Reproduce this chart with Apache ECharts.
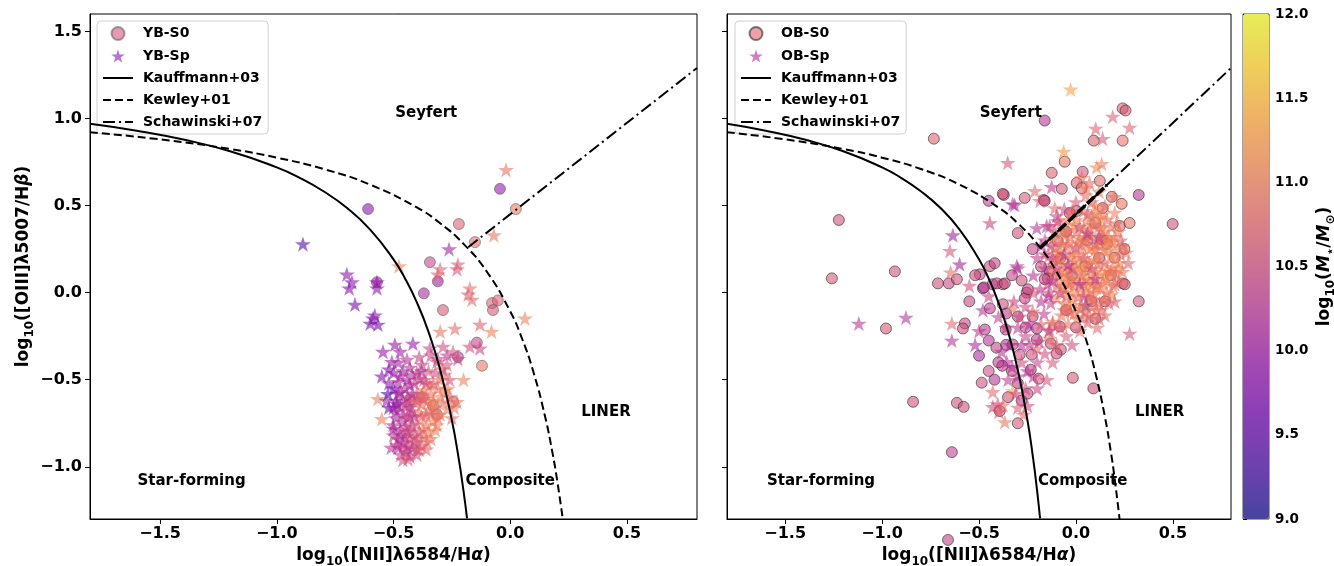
<!DOCTYPE html>
<html>
<head>
<meta charset="utf-8">
<title>BPT diagram</title>
<script src="https://cdn.jsdelivr.net/npm/echarts@6/dist/echarts.min.js"></script>
<style>
html, body { margin: 0; background: #fff; }
#chart { width: 1334px; height: 566px; }
</style>
</head>
<body>
<div id="chart"></div>
<script>
// [log NII/Ha, log OIII/Hb, log M*]
const ybS0 = [
  [-0.609, 0.48, 9.8], [-0.044, 0.596, 9.9], [0.024, 0.48, 10.9], [-0.22, 0.394, 10.7],
  [-0.151, 0.29, 10.8], [-0.344, 0.175, 10.4], [-0.31, 0.065, 10.0], [-0.571, 0.06, 10.0],
  [-0.37, -0.004, 10.1], [-0.288, -0.10, 10.6], [-0.078, -0.06, 10.7], [-0.053, -0.045, 10.7],
  [-0.074, -0.10, 10.6], [-0.143, -0.287, 10.4], [-0.121, -0.42, 10.9], [-0.224, -0.37, 10.3],
  [-0.378, -0.60, 10.5], [-0.33, -0.65, 10.6], [-0.43, -0.615, 10.5], [-0.314, -0.70, 10.6],
  [-0.245, -0.627, 10.8]
];
const ybSp = [
  [-0.888, 0.279, 9.3], [-0.70, 0.105, 9.8], [-0.678, 0.06, 9.8], [-0.69, 0.025, 9.8],
  [-0.665, -0.068, 9.6], [-0.571, 0.025, 9.8], [-0.571, 0.06, 9.9], [-0.588, -0.148, 9.8],
  [-0.60, -0.177, 9.7], [-0.567, -0.183, 9.6], [-0.58, -0.13, 9.8], [-0.018, 0.705, 10.9],
  [-0.07, 0.33, 10.9], [-0.262, 0.25, 10.0], [-0.477, 0.152, 11.0], [-0.224, 0.163, 10.7],
  [-0.228, 0.135, 10.6], [-0.30, 0.135, 10.7], [-0.31, 0.105, 10.7], [-0.173, 0.025, 10.8],
  [-0.18, -0.01, 10.7], [-0.164, -0.04, 10.8], [0.063, -0.148, 11.0], [-0.30, -0.223, 10.9],
  [-0.237, -0.206, 10.8], [-0.13, -0.183, 10.7], [-0.08, -0.223, 11.0], [-0.173, -0.31, 10.5],
  [-0.13, -0.32, 10.4], [-0.2, -0.5, 11.0], [-0.545, -0.339, 9.9], [-0.494, -0.298, 9.9],
  [-0.417, -0.292, 9.9], [-0.472, -0.339, 10.0], [-0.507, -0.397, 10.0], [-0.442, -0.385, 10.2],
  [-0.344, -0.32, 10.4], [-0.288, -0.31, 10.5], [-0.245, -0.34, 10.6], [-0.224, -0.38, 10.4],
  [-0.378, -0.413, 10.3], [-0.314, -0.397, 10.5], [-0.271, -0.413, 10.6], [-0.48, -0.512, 10.1],
  [-0.43, -0.529, 10.2], [-0.387, -0.494, 10.3], [-0.472, -0.57, 10.0], [-0.524, -0.581, 9.3],
  [-0.485, -0.639, 9.4], [-0.567, -0.61, 11.0], [-0.55, -0.725, 11.0], [-0.344, -0.529, 11.0],
  [-0.267, -0.552, 11.1], [-0.228, -0.627, 10.9], [-0.30, -0.598, 11.1], [-0.27, -0.668, 11.0],
  [-0.502, -0.76, 10.2], [-0.472, -0.818, 10.3], [-0.43, -0.84, 10.6], [-0.485, -0.875, 10.4],
  [-0.442, -0.916, 10.6], [-0.40, -0.898, 10.9], [-0.357, -0.858, 10.9], [-0.314, -0.76, 11.0],
  [-0.374, -0.783, 11.0], [-0.30, -0.70, 11.0], [-0.438, -0.956, 10.7], [-0.46, -0.45, 10.0],
  [-0.42, -0.47, 10.2], [-0.40, -0.58, 10.8], [-0.38, -0.64, 10.9], [-0.36, -0.70, 10.8],
  [-0.42, -0.68, 10.5], [-0.46, -0.70, 10.2], [-0.49, -0.72, 10.1], [-0.45, -0.77, 10.4],
  [-0.40, -0.75, 10.8], [-0.35, -0.80, 11.0], [-0.33, -0.62, 11.1], [-0.31, -0.55, 10.9],
  [-0.35, -0.45, 10.6], [-0.39, -0.37, 10.4], [-0.50, -0.46, 9.9], [-0.52, -0.52, 9.9],
  [-0.49, -0.62, 10.0], [-0.47, -0.66, 10.3], [-0.44, -0.60, 10.4], [-0.41, -0.82, 10.6],
  [-0.38, -0.88, 10.7], [-0.46, -0.86, 10.2], [-0.50, -0.82, 10.3], [-0.44, -0.72, 10.5],
  [-0.37, -0.56, 11.0], [-0.28, -0.47, 10.8], [-0.26, -0.50, 10.6], [-0.34, -0.36, 10.4],
  [-0.52, -0.44, 9.8], [-0.55, -0.48, 9.7], [-0.48, -0.40, 10.0], [-0.52, -0.66, 9.5],
  [-0.50, -0.55, 9.6], [-0.43, -0.43, 10.2], [-0.36, -0.52, 10.6], [-0.32, -0.46, 10.5],
  [-0.41, -0.63, 10.9], [-0.39, -0.69, 11.0], [-0.33, -0.74, 11.1], [-0.42, -0.89, 10.3],
  [-0.47, -0.93, 10.4], [-0.51, -0.89, 10.2], [-0.40, -0.93, 10.5], [-0.47, -0.48, 10.1],
  [-0.45, -0.55, 10.2], [-0.43, -0.66, 10.3], [-0.41, -0.71, 10.4], [-0.47, -0.79, 10.3],
  [-0.43, -0.79, 10.5], [-0.39, -0.80, 10.6], [-0.45, -0.83, 10.3], [-0.48, -0.89, 10.2],
  [-0.44, -0.88, 10.4], [-0.41, -0.86, 10.5], [-0.37, -0.83, 10.8], [-0.35, -0.67, 10.9],
  [-0.37, -0.61, 10.7], [-0.34, -0.58, 10.9], [-0.32, -0.66, 11.0], [-0.29, -0.63, 10.8],
  [-0.31, -0.38, 10.4], [-0.27, -0.36, 10.3], [-0.29, -0.44, 10.6], [-0.41, -0.52, 10.3],
  [-0.38, -0.45, 10.2], [-0.53, -0.62, 10.0], [-0.49, -0.68, 10.1], [-0.50, -0.78, 10.0],
  [-0.46, -0.96, 10.5], [-0.43, -0.94, 10.4], [-0.48, -0.58, 10.1], [-0.46, -0.62, 10.2],
  [-0.44, -0.65, 10.3], [-0.42, -0.58, 10.2], [-0.40, -0.62, 10.6], [-0.38, -0.71, 10.7],
  [-0.36, -0.76, 10.9], [-0.34, -0.70, 10.8], [-0.44, -0.50, 10.1], [-0.40, -0.46, 10.3],
  [-0.37, -0.50, 10.5], [-0.33, -0.52, 10.7], [-0.30, -0.50, 10.9], [-0.48, -0.84, 10.2],
  [-0.44, -0.80, 10.4], [-0.40, -0.84, 10.6], [-0.42, -0.76, 10.4], [-0.46, -0.74, 10.2],
  [-0.50, -0.66, 10.0], [-0.38, -0.59, 10.8], [-0.35, -0.62, 10.9], [-0.43, -0.71, 10.3],
  [-0.45, -0.90, 10.3], [-0.39, -0.90, 10.6], [-0.36, -0.90, 10.8], [-0.34, -0.84, 10.9],
  [-0.32, -0.79, 11.0], [-0.31, -0.72, 10.9], [-0.28, -0.56, 10.9], [-0.26, -0.60, 10.8],
  [-0.24, -0.66, 10.9], [-0.25, -0.72, 10.8]
];
const obS0 = [
  [-0.733, 0.884, 10.7], [-1.223, 0.417, 10.5], [-1.259, 0.082, 10.6], [-0.934, 0.122, 10.5],
  [-0.712, 0.053, 10.5], [-0.656, 0.053, 10.4], [-0.614, 0.077, 10.5], [-0.496, 0.105, 10.4],
  [-0.98, -0.206, 10.6], [-0.573, -0.177, 10.4], [-0.583, -0.206, 10.5], [-0.84, -0.627, 10.5],
  [-0.614, -0.633, 10.5], [-0.579, -0.656, 10.5], [-0.64, -0.916, 10.3], [-0.5, -0.362, 10.1],
  [-0.486, -0.517, 10.5], [-0.47, -0.212, 10.3], [-0.45, -0.275, 10.2], [-0.41, -0.316, 10.4],
  [-0.444, -0.09, 10.3], [-0.48, 0.025, 10.2], [-0.43, 0.048, 10.3], [-0.377, 0.048, 10.4],
  [-0.475, 0.03, 10.3], [-0.444, 0.152, 10.5], [-0.419, 0.169, 10.4], [-0.408, 0.053, 10.4],
  [-0.367, 0.053, 10.5], [-0.377, -0.067, 10.5], [-0.362, -0.212, 10.4], [-0.393, -0.68, 10.6],
  [-0.254, 0.0, 10.5], [-0.264, -0.033, 10.4], [-0.223, -0.137, 10.5], [-0.202, -0.206, 10.3],
  [-0.202, -0.27, 10.4], [-0.228, -0.356, 10.5], [-0.233, -0.443, 10.4], [-0.192, -0.494, 10.6],
  [-0.29, -0.356, 10.5], [-0.3, -0.137, 10.3], [-0.326, -0.298, 10.4], [-0.135, 0.123, 10.6],
  [-0.145, 0.082, 10.4], [-0.083, -0.195, 10.6], [-0.078, -0.327, 10.6], [-0.13, -0.293, 10.5],
  [-0.016, -0.489, 10.6], [0.09, -0.55, 10.5], [-0.161, 0.988, 10.2], [0.241, 1.058, 10.7],
  [0.256, 1.046, 10.6], [0.092, 0.873, 10.7], [0.241, 0.873, 10.9], [-0.058, 0.752, 10.9],
  [-0.125, 0.688, 10.7], [-0.073, 0.596, 10.6], [0.035, 0.694, 10.6], [0.004, 0.63, 10.7],
  [0.03, 0.6, 10.8], [-0.45, 0.527, 10.3], [-0.372, 0.561, 10.6], [-0.264, 0.544, 10.6],
  [-0.166, 0.532, 10.6], [-0.3, 0.342, 10.5], [0.185, 0.55, 10.8], [0.324, 0.561, 10.2],
  [0.499, 0.394, 10.5], [0.324, -0.05, 10.6], [0.241, 0.053, 10.7], [0.123, 0.642, 10.8],
  [-0.161, 0.527, 10.4], [-0.377, 0.567, 10.5], [0.236, 0.51, 10.9], [0.226, 0.383, 10.8],
  [0.277, 0.4, 10.9], [0.138, 0.486, 10.7], [0.004, 0.469, 10.6], [-0.032, 0.457, 10.5],
  [-0.223, 0.25, 10.4], [-0.161, 0.077, 10.5], [-0.248, 0.019, 10.4], [0.252, 0.048, 10.7],
  [0.133, 0.307, 10.8], [-0.094, 0.296, 10.6], [0.2, 0.2, 10.9], [0.18, 0.1, 10.8],
  [0.15, -0.05, 10.6], [0.25, 0.25, 10.9], [0.1, -0.15, 10.7], [0.0, -0.2, 10.5],
  [-0.05, -0.1, 10.6], [0.05, 0.15, 10.9], [0.1, 0.4, 10.8], [-0.05, 0.35, 10.5],
  [-0.33, -0.45, 10.4], [-0.3, -0.52, 10.3], [-0.35, -0.6, 10.5], [-0.28, -0.62, 10.3],
  [-0.25, -0.58, 10.4], [-0.3, -0.75, 10.6], [-0.42, -0.5, 10.2], [-0.38, -0.42, 10.3],
  [-0.55, -0.05, 10.4], [-0.52, 0.1, 10.5], [-0.36, -0.12, 10.3], [-0.33, 0.1, 10.4],
  [-0.28, 0.07, 10.5], [-0.26, -0.2, 10.4], [-0.4, -0.4, 10.3], [-0.45, -0.45, 10.5],
  [-0.36, -0.3, 10.2], [-0.18, 0.15, 10.5], [-0.08, 0.2, 10.6], [0.06, 0.3, 10.7],
  [0.16, 0.28, 10.8], [0.12, 0.2, 10.6], [-0.02, 0.1, 10.5], [0.08, -0.05, 10.6],
  [-0.1, -0.35, 10.5], [-0.66, -1.42, 10.3]
];
const obSp = [
  [-0.635, 0.33, 10.0], [-0.65, 0.24, 10.6], [-0.60, 0.163, 10.0], [-0.646, 0.117, 10.8],
  [-1.12, -0.177, 10.2], [-0.877, -0.143, 10.2], [-0.64, -0.177, 10.8], [-0.64, -0.275, 10.2],
  [-0.429, -0.57, 10.8], [-0.377, -0.645, 10.9], [-0.367, -0.743, 10.9], [-0.398, -0.685, 10.7],
  [-0.326, -0.564, 11.4], [-0.403, -0.64, 10.6], [-0.429, -0.656, 10.5], [-0.357, -0.397, 10.2],
  [-0.33, -0.425, 10.2], [-0.383, -0.339, 10.2], [-0.305, 0.152, 10.2], [-0.29, -0.137, 10.5],
  [-0.326, -0.09, 10.9], [-0.223, -0.108, 10.8], [-0.202, -0.32, 10.8], [-0.135, -0.264, 10.9],
  [-0.12, -0.166, 10.9], [-0.135, -0.212, 10.8], [-0.027, 1.167, 11.3], [0.19, 1.011, 10.7],
  [0.277, 0.948, 10.7], [0.102, 0.942, 10.7], [0.138, 0.884, 10.6], [-0.063, 0.81, 11.2],
  [-0.352, 0.746, 10.6], [-0.125, 0.607, 10.3], [-0.316, 0.504, 10.2], [-0.444, 0.4, 10.4],
  [-0.202, 0.371, 10.2], [-0.135, 0.382, 10.4], [0.05, -0.073, 9.2], [0.277, -0.235, 10.6],
  [-0.326, 0.509, 10.2], [-0.151, 0.383, 10.3], [-0.3, 0.14, 10.2], [-0.094, 0.411, 10.3],
  [0.107, 0.72, 11.1], [0.133, 0.74, 11.0], [0.03, 0.66, 10.9], [0.07, 0.63, 10.8],
  [0.055, 0.6, 11.0], [-0.212, 0.584, 10.8], [-0.186, 0.527, 10.7], [-0.109, 0.486, 10.8],
  [-0.12, 0.31, 11.1], [-0.07, 0.35, 11.2], [-0.05, 0.27, 11.0], [-0.01, 0.39, 11.2],
  [0.02, 0.31, 11.1], [0.055, 0.41, 11.2], [0.08, 0.33, 11.0], [0.125, 0.43, 11.2],
  [0.15, 0.35, 11.1], [0.185, 0.29, 11.2], [0.22, 0.35, 11.0], [-0.14, 0.21, 10.9],
  [-0.095, 0.23, 11.2], [-0.06, 0.17, 11.2], [-0.02, 0.23, 11.1], [0.025, 0.17, 11.2],
  [0.065, 0.25, 11.2], [0.1, 0.19, 11.1], [0.145, 0.25, 11.2], [0.18, 0.21, 11.0],
  [0.225, 0.17, 11.1], [0.26, 0.23, 10.9], [-0.115, 0.11, 11.0], [-0.08, 0.07, 11.2],
  [-0.035, 0.13, 11.2], [0.005, 0.07, 11.1], [0.045, 0.13, 11.2], [0.085, 0.05, 11.0],
  [0.125, 0.11, 11.2], [0.16, 0.07, 11.1], [0.205, 0.11, 11.0], [-0.1, -0.03, 11.1],
  [-0.055, 0.02, 11.2], [-0.015, -0.05, 11.0], [0.025, 0.01, 11.2], [0.065, -0.03, 11.1],
  [0.105, 0.03, 11.0], [0.145, -0.04, 10.9], [0.185, -0.01, 11.0], [-0.075, -0.13, 10.9],
  [-0.035, -0.08, 11.1], [0.005, -0.15, 11.0], [0.045, -0.11, 10.8], [0.105, -0.1, 10.9],
  [0.15, -0.13, 10.8], [-0.16, 0.14, 10.3], [-0.145, 0.05, 10.4], [-0.185, 0.02, 10.3],
  [-0.13, -0.06, 10.4], [-0.165, -0.12, 10.3], [-0.2, 0.2, 10.3], [-0.18, 0.27, 10.2],
  [0.0, 0.26, 10.3], [0.04, 0.2, 10.4], [-0.02, 0.14, 10.3], [0.1, 0.28, 10.4],
  [0.08, 0.14, 10.3], [0.06, 0.45, 10.4], [-0.06, 0.48, 10.5], [0.0, 0.52, 10.6],
  [0.05, 0.56, 10.8], [0.15, 0.5, 10.9], [0.2, 0.46, 11.0], [0.1, 0.5, 11.1],
  [-0.04, 0.42, 11.0], [0.2, 0.55, 10.9], [0.12, 0.58, 11.0], [-0.3, -0.2, 10.3],
  [-0.26, -0.25, 10.4], [-0.24, -0.3, 10.3], [-0.2, -0.4, 10.4], [-0.16, -0.35, 10.5],
  [-0.12, -0.4, 10.6], [-0.1, -0.3, 10.7], [-0.28, -0.4, 10.5], [-0.25, -0.45, 10.2],
  [-0.3, -0.48, 10.3], [-0.34, -0.3, 10.2], [-0.36, -0.2, 10.3], [-0.32, -0.05, 10.4],
  [-0.26, -0.08, 10.5], [-0.22, 0.0, 10.6], [-0.18, -0.18, 10.7], [-0.05, -0.25, 10.7],
  [-0.08, -0.2, 10.6], [-0.02, -0.3, 10.5], [-0.15, -0.5, 10.6], [-0.2, -0.55, 10.4],
  [-0.25, -0.65, 10.5], [-0.3, -0.66, 10.7], [-0.27, -0.7, 10.8], [-0.48, -0.1, 10.2],
  [-0.45, -0.02, 10.4], [-0.5, -0.22, 10.3], [-0.55, 0.04, 10.5], [-0.52, -0.3, 10.1],
  [-0.4, -0.14, 10.3], [-0.11, 0.26, 10.8], [-0.06, 0.33, 10.9], [-0.03, 0.2, 11.0],
  [0.0, 0.35, 10.9], [0.03, 0.27, 10.8], [0.07, 0.36, 11.1], [0.1, 0.25, 10.9],
  [0.13, 0.31, 11.0], [0.16, 0.42, 10.8], [0.2, 0.26, 11.0], [0.23, 0.3, 10.7],
  [-0.12, 0.16, 10.8], [-0.08, 0.13, 11.0], [-0.04, 0.05, 10.9], [0.0, 0.15, 11.1],
  [0.04, 0.05, 10.8], [0.08, 0.1, 11.0], [0.12, 0.16, 10.9], [0.16, 0.13, 11.1],
  [0.2, 0.05, 10.8], [0.24, 0.12, 10.9], [-0.1, 0.04, 10.7], [-0.06, -0.06, 10.9],
  [-0.02, 0.0, 11.0], [0.03, -0.07, 10.9], [0.07, 0.0, 11.1], [0.12, -0.06, 10.8],
  [0.16, 0.0, 10.9], [-0.12, -0.18, 10.8], [-0.04, -0.18, 10.9], [0.02, -0.22, 10.8],
  [0.06, -0.17, 10.7], [0.11, -0.2, 10.8], [-0.16, 0.3, 10.3], [-0.12, 0.2, 10.2],
  [-0.08, 0.0, 10.3], [-0.18, -0.05, 10.2], [-0.14, -0.22, 10.3], [0.02, 0.38, 10.4],
  [-0.1, 0.44, 10.4], [0.04, -0.02, 10.3], [-0.22, 0.1, 10.2], [-0.24, -0.18, 10.2],
  [-0.19, -0.28, 10.3], [-0.28, -0.3, 10.2], [-0.22, -0.48, 10.3], [-0.31, -0.58, 10.4],
  [-0.35, -0.5, 10.3], [-0.26, -0.55, 10.5], [-0.09, 0.19, 10.9], [-0.05, 0.09, 11.0],
  [-0.01, 0.18, 10.9], [0.03, 0.22, 11.0], [0.07, 0.17, 10.9], [0.11, 0.22, 11.0],
  [0.15, 0.17, 10.8], [0.19, 0.15, 11.0], [0.23, 0.22, 10.8], [-0.07, 0.28, 10.9],
  [-0.03, 0.32, 10.8], [0.01, 0.29, 11.0], [0.05, 0.32, 10.9], [0.09, 0.39, 10.8],
  [0.13, 0.37, 10.9], [0.17, 0.32, 11.0], [0.21, 0.4, 10.8], [-0.09, 0.1, 10.8],
  [-0.05, -0.02, 10.9], [-0.01, 0.04, 11.0], [0.03, 0.1, 10.9], [0.07, 0.07, 11.1],
  [0.11, 0.05, 10.9], [0.15, 0.1, 11.0], [0.19, 0.04, 10.9], [0.09, -0.04, 10.8],
  [0.05, 0.04, 11.0], [-0.03, -0.11, 10.8], [0.02, -0.09, 10.9], [0.07, -0.13, 10.8],
  [0.12, -0.15, 10.7], [-0.14, 0.0, 10.5], [-0.11, 0.35, 10.6], [-0.08, 0.4, 10.8],
  [0.04, 0.47, 10.9], [0.08, 0.52, 10.8], [0.14, 0.45, 11.0], [0.18, 0.38, 10.9],
  [0.24, 0.27, 10.8], [0.27, 0.17, 10.7], [0.22, 0.07, 10.8], [0.2, -0.05, 10.7],
  [-0.16, 0.22, 10.4], [-0.13, 0.27, 10.5], [-0.1, 0.14, 10.4], [-0.08, 0.24, 11.0],
  [-0.04, 0.28, 10.9], [0.0, 0.22, 11.0], [0.04, 0.3, 10.9], [0.08, 0.26, 11.0],
  [0.12, 0.28, 10.9], [0.16, 0.24, 11.0], [0.2, 0.32, 10.9], [-0.1, 0.18, 10.9],
  [-0.06, 0.12, 11.0], [-0.02, 0.08, 10.9], [0.02, 0.12, 11.0], [0.06, 0.18, 11.0],
  [0.1, 0.12, 10.9], [0.14, 0.06, 11.0], [0.18, 0.12, 10.9], [0.22, 0.14, 11.0],
  [-0.07, 0.03, 10.9], [-0.03, 0.06, 11.0], [0.01, -0.02, 10.9], [0.05, 0.08, 11.0],
  [0.09, 0.0, 10.9], [0.13, 0.02, 11.0], [0.17, -0.06, 10.8], [-0.04, 0.36, 10.9],
  [0.0, 0.42, 11.0], [0.04, 0.37, 10.9], [0.08, 0.44, 11.0], [0.12, 0.38, 10.9],
  [0.16, 0.3, 11.0], [-0.02, 0.47, 10.8], [0.1, 0.46, 10.9], [-0.06, -0.1, 10.8],
  [-0.01, -0.12, 10.9], [0.04, -0.14, 10.8], [0.08, -0.08, 10.9], [0.13, -0.1, 10.8],
  [-0.06, 0.22, 10.3], [0.02, 0.05, 10.2], [0.06, 0.34, 10.3], [-0.12, 0.07, 10.3],
  [0.12, 0.32, 10.4], [-0.04, 0.16, 10.2], [0.1, 0.08, 10.3], [-0.14, -0.02, 10.2]
];

// demarcation curves, [x, y]
const kauffmann03 = [
  [-1.8, 0.970], [-1.6, 0.930], [-1.4, 0.879], [-1.2, 0.812], [-1.0, 0.719], [-0.9, 0.658],
  [-0.8, 0.582], [-0.7, 0.487], [-0.6, 0.362], [-0.5, 0.191], [-0.45, 0.080], [-0.4, -0.056],
  [-0.35, -0.225], [-0.3, -0.443], [-0.25, -0.733], [-0.22, -0.959], [-0.2, -1.140], [-0.185, -1.296]
];
const kewley01 = [
  [-1.8, 0.921], [-1.5, 0.880], [-1.2, 0.825], [-1.0, 0.775], [-0.8, 0.710], [-0.6, 0.620],
  [-0.4, 0.489], [-0.3, 0.398], [-0.2, 0.280], [-0.1, 0.120], [0.0, -0.108], [0.05, -0.262],
  [0.1, -0.459], [0.15, -0.716], [0.18, -0.913], [0.2, -1.069], [0.225, -1.300]
];
const schawinski07 = [[-0.18, 0.261], [0.8, 1.29]];
const schawinskiBold = [[-0.186, 0.255], [0.16, 0.618]];

const xTicks = [-1.5, -1.0, -0.5, 0.0, 0.5];
const yTicks = [-1.0, -0.5, 0.0, 0.5, 1.0, 1.5];
const regionsYB = [
  { name: 'Seyfert', value: [-0.36, 1.03] }, { name: 'LINER', value: [0.41, -0.685] },
  { name: 'Star-forming', value: [-1.365, -1.085] }, { name: 'Composite', value: [0.0, -1.085] }
];
const regionsOB = [
  { name: 'Seyfert', value: [-0.336, 1.03] }, { name: 'LINER', value: [0.432, -0.685] },
  { name: 'Star-forming', value: [-1.315, -1.085] }, { name: 'Composite', value: [0.035, -1.085] }
];

const FONT = 'DejaVu Sans';
const plasma = [
  'rgba(13,8,135,0.7)', 'rgba(65,4,157,0.7)', 'rgba(106,0,168,0.7)', 'rgba(143,13,164,0.7)',
  'rgba(177,42,144,0.7)', 'rgba(204,71,120,0.7)', 'rgba(225,100,98,0.7)', 'rgba(242,132,75,0.7)',
  'rgba(252,166,54,0.7)', 'rgba(252,206,37,0.7)', 'rgba(240,249,33,0.7)'
];
const STAR = 'path://M50,0L61.2,34.5L97.6,34.5L68.2,55.9L79.4,90.5L50,69.1L20.6,90.5L31.8,55.9L2.4,34.5L38.8,34.5Z';

const fmt = v => (v < 0 ? '\u2212' : '') + Math.abs(v).toFixed(1);
const rich = {
  n: { fontSize: 17, fontWeight: 'bold', fontFamily: FONT, color: '#000', lineHeight: 24 },
  s: { fontSize: 12, fontWeight: 'bold', fontFamily: FONT, color: '#000', lineHeight: 14, verticalAlign: 'bottom' },
  i: { fontSize: 17, fontWeight: 'bold', fontStyle: 'italic', fontFamily: FONT, color: '#000', lineHeight: 24 }
};

function xAxis(i) {
  return {
    type: 'value', gridIndex: i, min: -1.8, max: 0.8,
    name: '{n|log}{s|10}{n|([NII]\u03bb6584/H}{i|\u03b1}{n|)}',
    nameLocation: 'middle', nameGap: 23, nameTextStyle: { rich: rich },
    axisLine: { show: true, onZero: false, lineStyle: { color: '#000', width: 1 } },
    axisTick: { show: true, customValues: xTicks, length: 5, lineStyle: { color: '#000' } },
    axisLabel: { customValues: xTicks, formatter: fmt, margin: 7, color: '#000', fontSize: 16, fontWeight: 'bold', fontFamily: FONT },
    splitLine: { show: false }
  };
}
function yAxis(i, labels) {
  return {
    type: 'value', gridIndex: i, min: -1.3, max: 1.6,
    name: labels ? '{n|log}{s|10}{n|([OIII]\u03bb5007/H}{i|\u03b2}{n|)}' : '',
    nameLocation: 'middle', nameGap: 54, nameRotate: 90, nameTextStyle: { rich: rich },
    axisLine: { show: true, onZero: false, lineStyle: { color: '#000', width: 1 } },
    axisTick: { show: true, customValues: yTicks, length: 5, lineStyle: { color: '#000' } },
    axisLabel: { show: labels, customValues: yTicks, formatter: fmt, margin: 8, color: '#000', fontSize: 16, fontWeight: 'bold', fontFamily: FONT },
    splitLine: { show: false }
  };
}
function curves(i) {
  const base = { type: 'line', xAxisIndex: i, yAxisIndex: i, symbol: 'none', smooth: true, z: 5, silent: true };
  const list = [
    Object.assign({}, base, { name: 'Kauffmann+03', data: kauffmann03, lineStyle: { color: '#000', width: 2 }, itemStyle: { color: '#000' } }),
    Object.assign({}, base, { name: 'Kewley+01', data: kewley01, lineStyle: { color: '#000', width: 2, type: [8, 4] }, itemStyle: { color: '#000' } }),
    Object.assign({}, base, { name: 'Schawinski+07', data: schawinski07, smooth: false, lineStyle: { color: '#000', width: 2, type: [12, 4, 2, 4] }, itemStyle: { color: '#000' } })
  ];
  if (i === 1) {
    list.push(Object.assign({}, base, { name: 'schawinskiBold', data: schawinskiBold, smooth: false, lineStyle: { color: '#000', width: 3.5, type: [10, 3] } }));
  }
  return list;
}
function labels(i, data) {
  return {
    type: 'scatter', xAxisIndex: i, yAxisIndex: i, symbolSize: 0, silent: true, z: 6,
    itemStyle: { color: 'rgba(0,0,0,0)' }, data: data,
    label: { show: true, position: 'inside', formatter: '{b}', color: '#000', opacity: 1, fontSize: 15, fontWeight: 'bold', fontFamily: FONT }
  };
}
const lineLegend = name => ({ name: name, itemStyle: { opacity: 0 } });
function legend(left, names) {
  return {
    orient: 'vertical', left: left, top: 21, selectedMode: false,
    data: names.concat([lineLegend('Kauffmann+03'), lineLegend('Kewley+01'), lineLegend('Schawinski+07')]),
    itemWidth: 30, itemHeight: 13, itemGap: 8, padding: [5, 6, 5, 5],
    borderColor: '#d0d0d0', borderWidth: 1, borderRadius: 4, backgroundColor: 'rgba(255,255,255,0.8)',
    textStyle: { color: '#000', fontSize: 14, fontWeight: 'bold', fontFamily: FONT, padding: [0, 0, 0, 5] }
  };
}

const chart = echarts.init(document.getElementById('chart'));
chart.setOption({
  animation: false,
  grid: [
    { left: 90, top: 14, width: 607, height: 505, show: true, borderColor: '#000', borderWidth: 1, outerBoundsMode: 'none' },
    { left: 727, top: 14, width: 504, height: 505, show: true, borderColor: '#000', borderWidth: 1, outerBoundsMode: 'none' },
    { left: 1243, top: 14, width: 26, height: 505, show: true, borderColor: '#444', borderWidth: 1, outerBoundsMode: 'none' }
  ],
  xAxis: [xAxis(0), xAxis(1),
    { type: 'value', gridIndex: 2, min: 0, max: 1, show: false }],
  yAxis: [yAxis(0, true), yAxis(1, false),
    {
      type: 'value', gridIndex: 2, min: 9, max: 12, interval: 0.5, position: 'right',
      name: '{n|log}{s|10}{n|(}{i|M}{s|\u22c6}{n|/}{i|M}{s|\u2299}{n|)}',
      nameLocation: 'middle', nameGap: 44, nameRotate: 90, nameTextStyle: { rich: rich },
      axisLine: { show: false },
      axisTick: { show: true, length: 4, lineStyle: { color: '#000' } },
      axisLabel: { formatter: v => v.toFixed(1), margin: 6, color: '#000', fontSize: 13.5, fontWeight: 'bold', fontFamily: FONT },
      splitLine: { show: false }
    }],
  visualMap: {
    type: 'continuous', min: 9, max: 12, dimension: 2, seriesIndex: [0, 1, 2, 3],
    inRange: { color: plasma }, calculable: false, hoverLink: false,
    left: 1243, top: 14, itemWidth: 26, itemHeight: 505, padding: 0, text: null
  },
  legend: [legend(97, ['YB-S0', 'YB-Sp']), legend(735, ['OB-S0', 'OB-Sp'])],
  series: [
    { name: 'YB-S0', type: 'scatter', xAxisIndex: 0, yAxisIndex: 0, symbol: 'circle', symbolSize: 11, data: ybS0, z: 2,
      itemStyle: { color: 'rgba(223,129,155,1)', borderColor: 'rgba(90,90,90,0.7)', borderWidth: 1 } },
    { name: 'YB-Sp', type: 'scatter', xAxisIndex: 0, yAxisIndex: 0, symbol: STAR, symbolSize: 16, symbolKeepAspect: true, data: ybSp, z: 3,
      itemStyle: { color: 'rgba(164,78,201,1)' } },
    { name: 'OB-S0', type: 'scatter', xAxisIndex: 1, yAxisIndex: 1, symbol: 'circle', symbolSize: 11, data: obS0, z: 2, clip: false,
      itemStyle: { color: 'rgba(232,138,142,1)', borderColor: 'rgba(40,40,40,0.75)', borderWidth: 1 } },
    { name: 'OB-Sp', type: 'scatter', xAxisIndex: 1, yAxisIndex: 1, symbol: STAR, symbolSize: 16, symbolKeepAspect: true, data: obSp, z: 3,
      itemStyle: { color: 'rgba(199,93,181,1)' } }
  ].concat(curves(0), curves(1), [labels(0, regionsYB), labels(1, regionsOB)])
});
</script>
</body>
</html>
